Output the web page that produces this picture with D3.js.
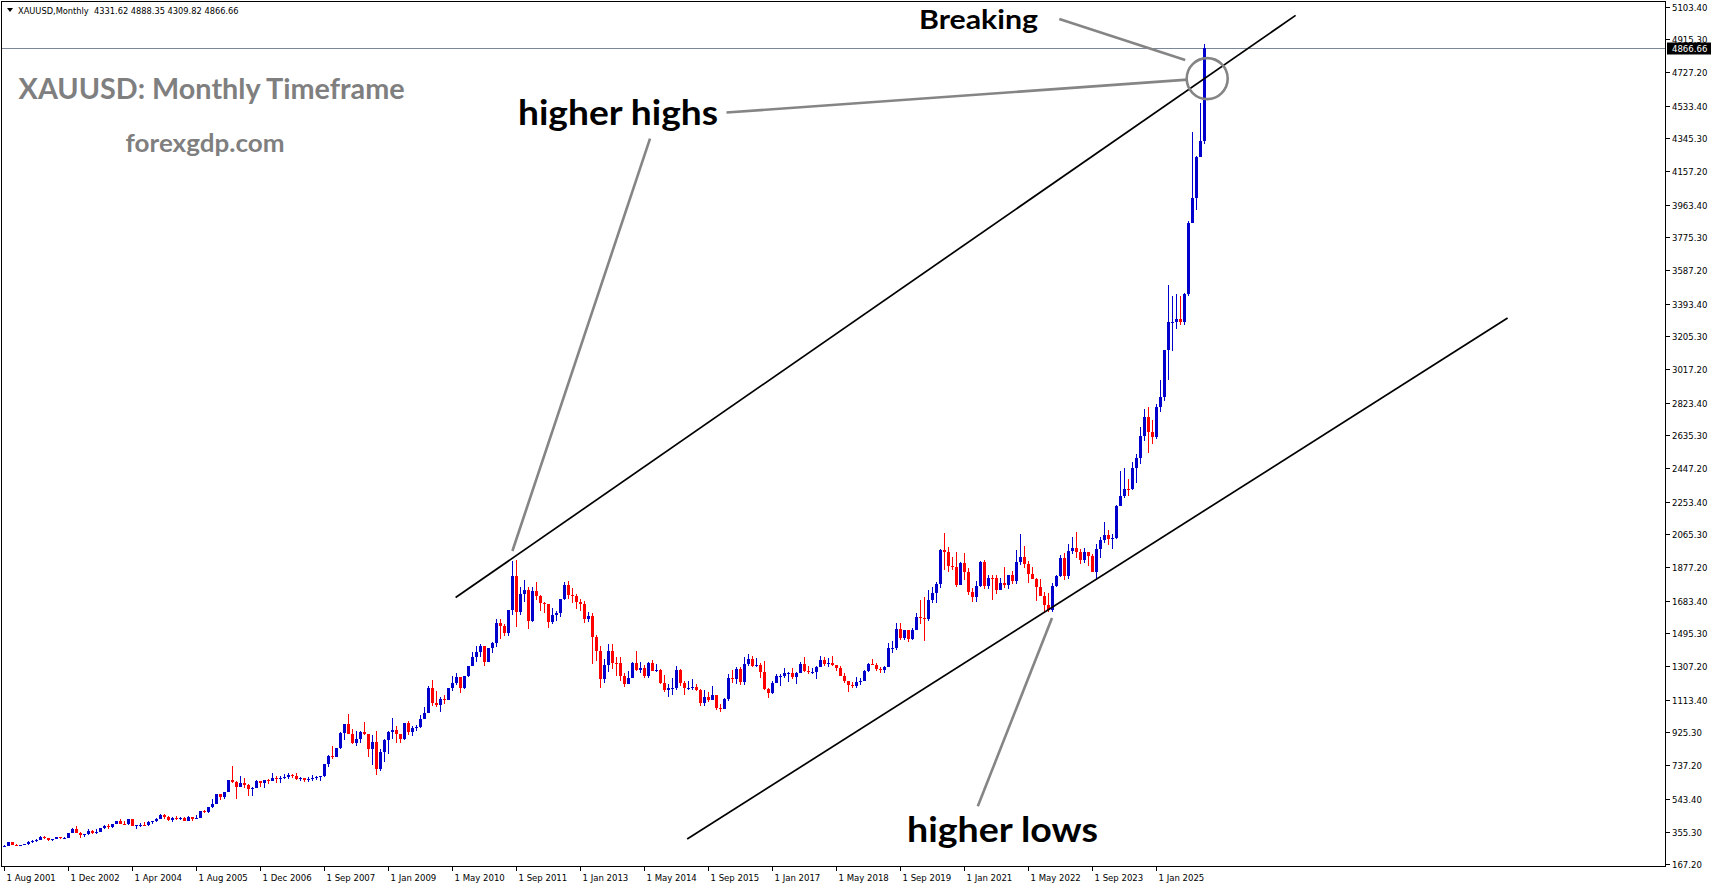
<!DOCTYPE html>
<html>
<head>
<meta charset="utf-8">
<script src="https://cdn.jsdelivr.net/npm/d3@7"></script>
<style>
  html, body { margin: 0; padding: 0; background: #fff; overflow: hidden; }
  svg { display: block; }
</style>
</head>
<body>
<div id="chart"></div>
<script>
// ---- data (monthly XAUUSD bars, one entry per bar as drawn by the terminal) ----
const symbolName = "XAUUSD,Monthly";
const firstOpen = 265.5;

const closes = [
  273, 293, 279, 275, 279,
  282, 297, 303, 308, 326, 318, 304, 312, 324, 317, 318, 347,
  367, 347, 334, 339, 361, 346, 354, 375, 388, 384, 398, 416,
  400, 397, 426, 387, 393, 395, 391, 408, 415, 429, 452, 438,
  422, 435, 428, 435, 418, 436, 429, 434, 473, 470, 495, 513,
  569, 556, 583, 654, 643, 614, 633, 624, 599, 604, 646,
  632, 650, 648, 665, 655, 662, 670, 681, 676, 659, 662, 650, 657, 665, 668, 673,
  743, 789, 783, 834,
  923, 972, 917, 865, 886, 929, 914, 833, 871, 718, 815, 882,
  927, 942, 917, 887, 979, 927, 954, 955, 1001, 1040, 1182, 1096,
  1081, 1118, 1113, 1179, 1212, 1244, 1181, 1248, 1307, 1357, 1386, 1421,
  1332, 1411, 1439, 1556, 1536, 1500, 1628, 1828, 1620, 1722, 1746, 1565,
  1738, 1711, 1668, 1664, 1560, 1604, 1615, 1692, 1772, 1719, 1712, 1675,
  1664, 1578, 1597, 1476, 1393, 1234, 1313, 1396, 1327, 1323, 1253, 1202,
  1240, 1326, 1284, 1296, 1250, 1327, 1282, 1287, 1210, 1171, 1182, 1184,
  1283, 1213, 1183, 1183, 1190, 1172, 1095, 1132, 1115, 1142, 1064, 1061,
  1118, 1238, 1233, 1293, 1215, 1322, 1351, 1309, 1316, 1272, 1173, 1152,
  1211, 1249, 1249, 1268, 1268, 1242, 1269, 1322, 1280, 1271, 1275, 1303,
  1345, 1318, 1325, 1315, 1298, 1253, 1224, 1201, 1192, 1215, 1222, 1282,
  1321, 1313, 1292, 1283, 1305, 1409, 1413, 1520, 1472, 1513, 1464, 1517,
  1589, 1585, 1577, 1686, 1730, 1781, 1975, 1967, 1886, 1879, 1776, 1898,
  1847, 1734, 1708, 1769, 1906, 1770, 1814, 1813, 1743, 1783, 1774, 1829,
  1797, 1909, 1937, 1897, 1837, 1807, 1765, 1711, 1660, 1633, 1768, 1824,
  1928, 1827, 1969, 1990, 1963, 1919, 1965, 1940, 1849, 1983, 2036, 2063,
  2039, 2044, 2230, 2286, 2327, 2326, 2447, 2503, 2634, 2744, 2654, 2625,
  2798, 2858, 3124, 3289, 3289, 3303, 3290, 3448, 3858, 4002, 4239, 4331.62,
  4866.66
];

const highs = [
  280, 293, 293, 283, 280,
  283, 301, 304, 310, 327, 330, 319, 315, 326, 325, 322, 349,
  373, 389, 352, 340, 370, 364, 367, 376, 390, 396, 399, 417,
  427, 414, 427, 428, 395, 403, 409, 414, 418, 431, 455, 458,
  443, 437, 446, 438, 437, 443, 437, 448, 475, 478, 497, 541,
  571, 574, 585, 654, 730, 647, 675, 663, 627, 610, 649,
  647, 652, 656, 690, 672, 673, 684, 692, 689, 692, 670, 664, 668, 680, 677, 675,
  745, 796, 845, 835,
  929, 976, 1032, 947, 935, 934, 988, 918, 910, 935, 830, 888,
  935, 1006, 962, 919, 980, 990, 965, 966, 1025, 1070, 1195, 1227,
  1162, 1128, 1140, 1180, 1250, 1266, 1246, 1248, 1310, 1388, 1424, 1432,
  1424, 1412, 1447, 1577, 1577, 1552, 1632, 1912, 1921, 1761, 1803, 1764,
  1764, 1791, 1718, 1677, 1666, 1640, 1627, 1693, 1790, 1796, 1755, 1723,
  1695, 1683, 1617, 1611, 1487, 1424, 1347, 1433, 1434, 1361, 1361, 1267,
  1280, 1332, 1392, 1331, 1315, 1332, 1345, 1322, 1290, 1256, 1207, 1239,
  1307, 1290, 1224, 1224, 1232, 1205, 1178, 1170, 1157, 1191, 1142, 1088,
  1123, 1263, 1283, 1304, 1303, 1362, 1375, 1367, 1352, 1325, 1338, 1182,
  1220, 1264, 1262, 1295, 1272, 1296, 1274, 1331, 1357, 1306, 1299, 1306,
  1366, 1361, 1356, 1366, 1316, 1309, 1266, 1221, 1214, 1243, 1237, 1285,
  1326, 1346, 1324, 1302, 1306, 1439, 1453, 1555, 1557, 1518, 1516, 1524,
  1611, 1689, 1704, 1748, 1765, 1789, 1984, 2075, 1992, 1933, 1966, 1906,
  1959, 1872, 1755, 1798, 1913, 1916, 1832, 1834, 1834, 1814, 1877, 1831,
  1853, 1974, 2070, 1998, 1910, 1879, 1814, 1808, 1735, 1730, 1786, 1833,
  1949, 1959, 2010, 2049, 2079, 1983, 1987, 1949, 1953, 2009, 2052, 2135,
  2088, 2065, 2236, 2431, 2450, 2387, 2483, 2531, 2685, 2790, 2801, 2726,
  2817, 2956, 3128, 3500, 3435, 3452, 3439, 3453, 3871, 4381, 4245, 4550,
  4888.35
];

const lows = [
  265, 271, 276, 271, 271,
  276, 280, 290, 297, 307, 314, 302, 300, 310, 313, 314, 316,
  347, 346, 320, 322, 338, 341, 342, 351, 372, 368, 378, 397,
  399, 390, 393, 385, 372, 382, 387, 385, 398, 412, 425, 430,
  417, 412, 424, 421, 414, 414, 418, 426, 432, 461, 463, 488,
  514, 538, 540, 583, 637, 543, 612, 605, 560, 560, 603,
  612, 603, 631, 645, 637, 637, 655, 660, 665, 650, 648, 640, 642, 645, 652, 648,
  667, 726, 773, 782,
  832, 882, 914, 858, 849, 862, 909, 786, 740, 681, 705, 753,
  801, 890, 865, 865, 880, 913, 905, 932, 950, 1001, 1035, 1075,
  1073, 1044, 1087, 1114, 1164, 1198, 1155, 1175, 1243, 1309, 1330, 1362,
  1309, 1329, 1381, 1417, 1462, 1478, 1479, 1602, 1535, 1603, 1676, 1522,
  1563, 1688, 1627, 1614, 1527, 1548, 1565, 1588, 1690, 1692, 1673, 1635,
  1626, 1555, 1562, 1321, 1338, 1180, 1208, 1271, 1292, 1251, 1221, 1187,
  1202, 1238, 1277, 1268, 1240, 1240, 1280, 1273, 1207, 1161, 1131, 1142,
  1167, 1191, 1142, 1170, 1169, 1162, 1077, 1077, 1098, 1113, 1052, 1046,
  1061, 1107, 1208, 1206, 1200, 1200, 1310, 1302, 1304, 1241, 1171, 1122,
  1146, 1208, 1195, 1240, 1214, 1236, 1205, 1267, 1271, 1260, 1264, 1236,
  1302, 1307, 1303, 1310, 1281, 1250, 1211, 1160, 1180, 1182, 1196, 1221,
  1275, 1311, 1281, 1266, 1266, 1301, 1381, 1400, 1459, 1458, 1445, 1456,
  1517, 1547, 1451, 1567, 1670, 1671, 1757, 1863, 1849, 1860, 1765, 1775,
  1802, 1717, 1677, 1678, 1765, 1750, 1751, 1688, 1721, 1746, 1758, 1753,
  1780, 1781, 1890, 1872, 1787, 1806, 1681, 1709, 1615, 1618, 1616, 1765,
  1823, 1805, 1810, 1950, 1932, 1893, 1903, 1885, 1847, 1810, 1931, 2016,
  2002, 1984, 2039, 2229, 2277, 2286, 2319, 2364, 2471, 2603, 2536, 2583,
  2614, 2772, 2833, 2957, 3121, 3247, 3268, 3268, 3436, 3886, 3930, 4275,
  4309.82
];

// one time label every 16 bars
const timeLabels = [
  "1 Aug 2001", "1 Dec 2002", "1 Apr 2004", "1 Aug 2005", "1 Dec 2006",
  "1 Sep 2007", "1 Jan 2009", "1 May 2010", "1 Sep 2011", "1 Jan 2013",
  "1 May 2014", "1 Sep 2015", "1 Jan 2017", "1 May 2018", "1 Sep 2019",
  "1 Jan 2021", "1 May 2022", "1 Sep 2023", "1 Jan 2025"
];

const priceTicks = [
  5103.40, 4915.30, 4727.20, 4533.40, 4345.30, 4157.20, 3963.40, 3775.30,
  3587.20, 3393.40, 3205.30, 3017.20, 2823.40, 2635.30, 2447.20, 2253.40,
  2065.30, 1877.20, 1683.40, 1495.30, 1307.20, 1113.40, 925.30, 737.20,
  543.40, 355.30, 167.20
];

// channel drawn on the chart (bar index, price)
const upperLine = [{ bar: 112.9, price: 1702 }, { bar: 322.9, price: 5053 }];
const lowerLine = [{ bar: 170.8, price: 312 }, { bar: 375.9, price: 3311 }];

// points the annotations aim at (bar index, price)
const peak2011 = { bar: 127.1, price: 1970 };
const low2022 = { bar: 262, price: 1584 };
const breakPoint = { bar: 300.8, price: 4689 };

// ---- layout ----
const W = 1713, H = 888;
const plotRight = 1665.5, plotBottom = 866.5;

const svg = d3.select("#chart").append("svg")
  .attr("width", W).attr("height", H)
  .style("font-family", "'DejaVu Sans Condensed', 'DejaVu Sans', sans-serif");

svg.append("rect").attr("width", W).attr("height", H).attr("fill", "#fff");

const x = d3.scaleLinear().domain([0, 300]).range([4, 1204]);
const y = d3.scaleLinear().domain([167.2, 5103.4]).range([864.2, 6.6]);

const bars = closes.map((c, i) => {
  const o = i === 0 ? firstOpen : closes[i - 1];
  return { i, o, c, h: Math.max(highs[i], o, c), l: Math.min(lows[i], o, c) };
});

svg.append("clipPath").attr("id", "plotclip")
  .append("rect").attr("x", 2).attr("y", 2)
  .attr("width", plotRight - 2).attr("height", plotBottom - 2);

const plot = svg.append("g").attr("clip-path", "url(#plotclip)");

// current price line
const lastClose = closes[closes.length - 1];
plot.append("line")
  .attr("x1", 2).attr("x2", plotRight)
  .attr("y1", Math.round(y(lastClose)) + 0.5).attr("y2", Math.round(y(lastClose)) + 0.5)
  .attr("stroke", "#7b8799").attr("stroke-width", 1);

// candles
const candles = plot.append("g").attr("shape-rendering", "crispEdges");
candles.selectAll("line.wick")
  .data(bars)
  .join("line")
  .attr("class", "wick")
  .attr("x1", (d) => Math.round(x(d.i)) + 0.5)
  .attr("x2", (d) => Math.round(x(d.i)) + 0.5)
  .attr("y1", (d) => y(d.h))
  .attr("y2", (d) => y(d.l))
  .attr("stroke", (d) => (d.c >= d.o ? "#0000cd" : "#ff0000"))
  .attr("stroke-width", 1);
candles.selectAll("rect.body")
  .data(bars)
  .join("rect")
  .attr("class", "body")
  .attr("x", (d) => Math.round(x(d.i)) - 1)
  .attr("width", 3)
  .attr("y", (d) => y(Math.max(d.o, d.c)))
  .attr("height", (d) => Math.max(1, Math.abs(y(d.o) - y(d.c))))
  .attr("fill", (d) => (d.c >= d.o ? "#0000cd" : "#ff0000"));

// channel lines
const lineGen = d3.line().x((d) => x(d.bar)).y((d) => y(d.price));
[upperLine, lowerLine].forEach((pts) => {
  plot.append("path")
    .attr("d", lineGen(pts))
    .attr("fill", "none")
    .attr("stroke", "#000")
    .attr("stroke-width", 1.7);
});

// annotation pointers
const grey = "#858585";
const pointers = [
  [[650, 138.7], [x(peak2011.bar), y(peak2011.price)]],
  [[726.5, 112.5], [x(breakPoint.bar) - 19.5, y(breakPoint.price) + 1]],
  [[1059.3, 19], [x(breakPoint.bar) - 22, y(breakPoint.price) - 18.5]],
  [[977.8, 806.3], [x(low2022.bar), y(low2022.price)]]
];
pointers.forEach((p) => {
  plot.append("line")
    .attr("x1", p[0][0]).attr("y1", p[0][1])
    .attr("x2", p[1][0]).attr("y2", p[1][1])
    .attr("stroke", grey).attr("stroke-width", 2.6);
});
plot.append("circle")
  .attr("cx", x(breakPoint.bar)).attr("cy", y(breakPoint.price))
  .attr("r", 20.5)
  .attr("fill", "none").attr("stroke", grey).attr("stroke-width", 2.6);

// frame
const frame = svg.append("g").attr("stroke", "#000").attr("stroke-width", 1)
  .attr("shape-rendering", "crispEdges");
frame.append("line").attr("x1", 1.5).attr("x2", 1.5).attr("y1", 1).attr("y2", plotBottom);
frame.append("line").attr("x1", 1).attr("x2", plotRight).attr("y1", 1.5).attr("y2", 1.5);
frame.append("line").attr("x1", plotRight).attr("x2", plotRight).attr("y1", 1).attr("y2", plotBottom + 0.5);
frame.append("line").attr("x1", 1).attr("x2", plotRight).attr("y1", plotBottom).attr("y2", plotBottom);

// price scale
const yAxis = svg.append("g");
priceTicks.forEach((v) => {
  const py = Math.round(y(v)) + 0.5;
  yAxis.append("line")
    .attr("x1", plotRight).attr("x2", plotRight + 4)
    .attr("y1", py).attr("y2", py)
    .attr("stroke", "#000").attr("shape-rendering", "crispEdges");
  yAxis.append("text")
    .attr("x", plotRight + 6.5).attr("y", py + 3.5)
    .attr("font-size", 9.5)
    .attr("fill", "#000")
    .text(d3.format(".2f")(v));
});

// current price tag
const tagY = Math.round(y(lastClose));
svg.append("rect")
  .attr("x", plotRight + 1.5).attr("y", tagY - 5.5)
  .attr("width", 44).attr("height", 12)
  .attr("fill", "#000");
svg.append("text")
  .attr("x", plotRight + 6.5).attr("y", tagY + 4)
  .attr("font-size", 9.5).attr("fill", "#fff")
  .text(d3.format(".2f")(lastClose));

// time scale
const xAxis = svg.append("g");
timeLabels.forEach((t, k) => {
  const px = Math.round(x(k * 16)) + 0.5;
  xAxis.append("line")
    .attr("x1", px).attr("x2", px)
    .attr("y1", plotBottom).attr("y2", plotBottom + 4.5)
    .attr("stroke", "#000").attr("shape-rendering", "crispEdges");
  xAxis.append("text")
    .attr("x", px + 2).attr("y", plotBottom + 14)
    .attr("font-size", 9.5).attr("fill", "#000")
    .text(t);
});

// header
svg.append("path")
  .attr("d", "M7,8 L13,8 L10,12 Z")
  .attr("fill", "#000");
const last = bars[bars.length - 1];
svg.append("text")
  .attr("x", 18).attr("y", 13.5)
  .attr("font-size", 9.2).attr("fill", "#000")
  .attr("xml:space", "preserve")
  .text(symbolName + "  " + [last.o, last.h, last.l, last.c].map(d3.format(".2f")).join(" "));

// titles and labels
const bold = "Lato, 'Open Sans', sans-serif";
function label(txt, x0, base, size, width, color) {
  svg.append("text")
    .attr("x", x0).attr("y", base)
    .attr("font-family", bold).attr("font-weight", 700)
    .attr("font-size", size).attr("fill", color)
    .attr("textLength", width).attr("lengthAdjust", "spacingAndGlyphs")
    .text(txt);
}
label("XAUUSD: Monthly Timeframe", 18.6, 99, 29, 386, "#7f7f7f");
label("forexgdp.com", 125.6, 151.7, 24, 159, "#7f7f7f");
label("higher highs", 518, 125, 35, 200, "#000");
label("Breaking", 919, 29.3, 26, 119, "#000");
label("higher lows", 907, 841.7, 35, 191, "#000");
</script>
</body>
</html>
